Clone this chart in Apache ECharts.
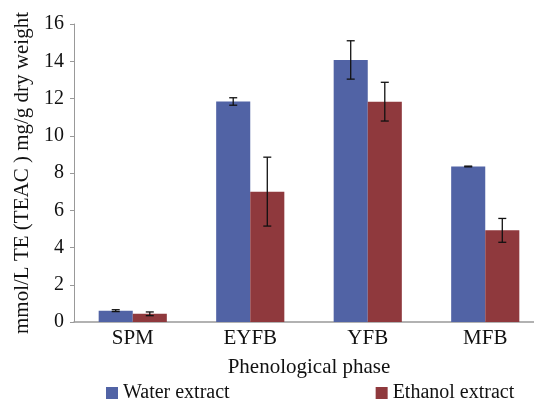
<!DOCTYPE html>
<html>
<head>
<meta charset="utf-8">
<script src="https://cdn.jsdelivr.net/npm/echarts@6/dist/echarts.min.js"></script>
<style>
  html, body { margin: 0; padding: 0; background: #fff; }
  #chart { width: 534px; height: 402px; }
</style>
</head>
<body>
<div id="chart"></div>
<script>
// data
const phases = ['SPM', 'EYFB', 'YFB', 'MFB']
const waterMean = [0.61, 11.84, 14.07, 8.35]
const waterErr = [0.05, 0.2, 1.03, 0.02]
const ethanolMean = [0.44, 7.0, 11.83, 4.92]
const ethanolErr = [0.1, 1.85, 1.04, 0.64]
const yTicks = [0, 2, 4, 6, 8, 10, 12, 14, 16]

const serif = "'Liberation Serif', 'Times New Roman', serif"
const blue = '#5163A5'
const red = '#8F393D'

// error bar drawn on top of one of the two bars in a category
function errorBars (mean, err, which) {
  return {
    type: 'custom',
    name: which === 0 ? 'errW' : 'errE',
    data: mean.map((m, i) => [i, m - err[i], m + err[i]]),
    z: 10,
    renderItem: function (params, api) {
      const lo = api.coord([api.value(0), api.value(1)])
      const hi = api.coord([api.value(0), api.value(2)])
      const band = api.size([1, 0])[0]
      const barW = band * 0.29
      const x = lo[0] + (which === 0 ? -barW / 2 : barW / 2)
      const cap = 4
      const style = { stroke: '#111', lineWidth: 1.3 }
      return {
        type: 'group',
        children: [
          { type: 'line', shape: { x1: x, y1: lo[1], x2: x, y2: hi[1] }, style: style },
          { type: 'line', shape: { x1: x - cap, y1: lo[1], x2: x + cap, y2: lo[1] }, style: style },
          { type: 'line', shape: { x1: x - cap, y1: hi[1], x2: x + cap, y2: hi[1] }, style: style }
        ]
      }
    }
  }
}

const chart = echarts.init(document.getElementById('chart'))
chart.setOption({
  animation: false,
  textStyle: { fontFamily: serif },
  legend: {
    data: ['Water extract', 'Ethanol extract'],
    left: 101,
    top: 378,
    itemWidth: 12,
    itemHeight: 12,
    itemGap: 146,
    icon: 'rect',
    textStyle: { fontFamily: serif, fontSize: 20, color: '#111' }
  },
  grid: { left: 74, width: 470, top: 24, height: 298, outerBoundsMode: 'none' },
  xAxis: {
    type: 'category',
    data: phases,
    name: 'Phenological phase',
    nameLocation: 'middle',
    nameGap: 35,
    nameTextStyle: { fontFamily: serif, fontSize: 21, color: '#111' },
    axisLine: { lineStyle: { color: '#999', width: 1.5 } },
    axisTick: { show: false },
    axisLabel: { fontFamily: serif, fontSize: 21, color: '#111', margin: 6 }
  },
  yAxis: {
    type: 'value',
    min: yTicks[0],
    max: yTicks[yTicks.length - 1],
    interval: 2,
    name: 'mmol/L TE (TEAC ) mg/g dry weight',
    nameLocation: 'middle',
    nameGap: 41,
    nameTextStyle: { fontFamily: serif, fontSize: 21, color: '#111' },
    axisLine: { show: true, lineStyle: { color: '#999', width: 1 } },
    axisTick: { show: true, length: 4, lineStyle: { color: '#999' } },
    splitLine: { show: false },
    axisLabel: { fontFamily: serif, fontSize: 20, color: '#111', margin: 10 }
  },
  series: [
    {
      name: 'Water extract',
      type: 'bar',
      data: waterMean,
      barGap: '0%',
      barCategoryGap: '42%',
      itemStyle: { color: blue }
    },
    {
      name: 'Ethanol extract',
      type: 'bar',
      data: ethanolMean,
      itemStyle: { color: red }
    },
    errorBars(waterMean, waterErr, 0),
    errorBars(ethanolMean, ethanolErr, 1)
  ]
})
</script>
</body>
</html>
